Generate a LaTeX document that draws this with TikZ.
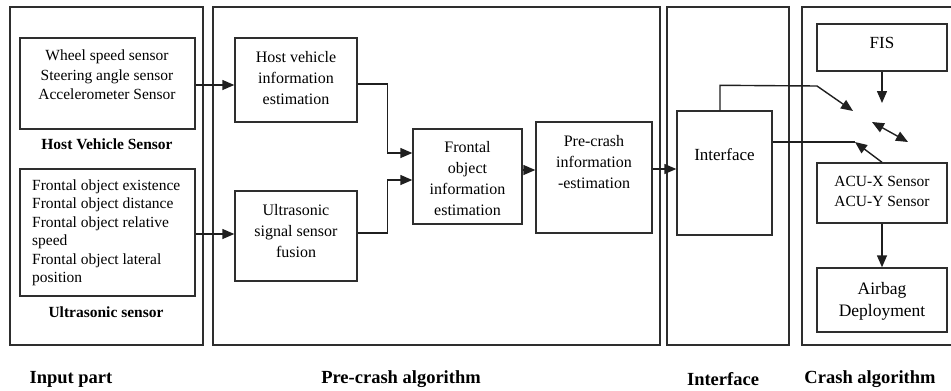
\documentclass[tikz,border=0pt]{standalone}
\usepackage{fontspec}
\setmainfont{Liberation Serif}
\usetikzlibrary{arrows.meta,calc}

\begin{document}
\begin{tikzpicture}[x=1pt,y=-1pt,
  ink/.style={draw=black!82,line width=1.4pt},
  panel/.style={ink,minimum width=#1,minimum height=338pt,inner sep=0pt},
  blk/.style={ink,inner sep=0pt},
  txt/.style={align=center,inner sep=0pt,font=\fontsize{16}{21}\selectfont},
  sidelabel/.style={inner sep=0pt,font=\fontsize{15.5}{18}\selectfont\bfseries},
  partlabel/.style={inner sep=0pt,font=\fontsize{18.5}{22}\selectfont\bfseries},
  tip/.tip={Triangle[length=12pt,width=10pt]},
  arr/.style={draw=black!88,line width=1.4pt,-tip},
  link/.style={draw=black!88,line width=1.4pt}]

\useasboundingbox (0,0) rectangle (951,391);

% --- outer panels ---
\node[panel=193pt] (inp) at (106.5,176) {};
\node[panel=447pt] (pre) at (436.5,176) {};
\node[panel=122pt] (itf) at (728,176) {};
\draw[ink] (955,7) -- (802,7) -- (802,345) -- (955,345);

% --- input part ---
\node[blk,minimum width=175pt,minimum height=91pt] (hvs) at (107.5,83.5) {};
\node[txt,font=\fontsize{15.5}{19.5}\selectfont] at (107,75) {Wheel speed sensor\\Steering angle sensor\\Accelerometer Sensor};
\node[sidelabel] (hvsl) at (107,144) {Host Vehicle Sensor};

\node[blk,minimum width=175pt,minimum height=127pt] (uss) at (107.5,232.5) {};
\node[align=left,inner sep=0pt,anchor=west,font=\fontsize{15.5}{18.5}\selectfont] at (32,233)
  {Frontal object existence\\Frontal object distance\\Frontal object relative\\speed\\Frontal object lateral\\position};
\node[sidelabel] (ussl) at (106,312) {Ultrasonic sensor};

% --- pre-crash algorithm ---
\node[blk,minimum width=122pt,minimum height=84pt] (hve) at (296,80) {};
\node[txt] at (296,78) {Host vehicle\\information\\estimation};

\node[blk,minimum width=122pt,minimum height=90pt] (usf) at (296,236) {};
\node[txt] at (296,231) {Ultrasonic\\signal sensor\\fusion};

\node[blk,minimum width=109pt,minimum height=95pt] (foe) at (467.5,176.5) {};
\node[txt] at (467.5,179) {Frontal\\object\\information\\estimation};

\node[blk,minimum width=116pt,minimum height=111pt] (pce) at (594,177.5) {};
\node[txt] at (594,162) {Pre-crash\\information\\-estimation};

% --- interface ---
\node[blk,minimum width=95pt,minimum height=124pt] (ifb) at (724.5,173) {};
\node[txt,font=\fontsize{17}{21}\selectfont] at (724.5,155) {Interface};

% --- crash algorithm ---
\node[blk,minimum width=130pt,minimum height=47pt] (fis) at (882,47.5) {};
\node[txt,font=\fontsize{17}{21}\selectfont] at (882,43) {FIS};

\node[blk,minimum width=130pt,minimum height=60pt] (acu) at (882,193) {};
\node[txt,font=\fontsize{15.5}{20}\selectfont] at (882,191) {ACU-X Sensor\\ACU-Y Sensor};

\node[blk,minimum width=130pt,minimum height=64pt] (air) at (882,300) {};
\node[txt,font=\fontsize{17.5}{22}\selectfont] at (882,301) {Airbag\\Deployment};

% --- part captions ---
\node[partlabel] at (71,379) {Input part};
\node[partlabel] at (401,379) {Pre-crash algorithm};
\node[partlabel] at (723,379) {Interface};
\node[partlabel] at (870,379) {Crash algorithm};

% --- loose ends of the crash-side signals ---
\coordinate (tipa) at (853,111);
\coordinate (tipb) at (855,142);
\coordinate (tipc) at (882,103);
\coordinate (dbla) at (872,122);
\coordinate (dblb) at (908,142);

% --- connectors ---
\draw[arr] ($(hvs.east)+(0,1.5)$) -- ($(hvs.east -| hve.west)+(0,1.5)$);
\draw[arr] ($(uss.east)+(0,1.5)$) -- ($(uss.east -| usf.west)+(0,1.5)$);
\draw[arr] ($(hve.east)+(0,4)$) -- ++(30,0) |- ($(foe.west)+(0,-23.5)$);
\draw[arr] ($(usf.east)+(0,-3)$) -- ++(30,0) |- ($(foe.west)+(0,3.5)$);
\draw[arr] ($(foe.east)+(0,-6.5)$) -- ($(foe.east -| pce.west)+(0,-6.5)$);
\draw[arr] ($(pce.east)+(0,-8.5)$) -- ($(pce.east -| ifb.west)+(0,-8.5)$);

\draw[arr] ($(ifb.north)+(-4.5,0)$) -- ++(0,-25) -- (817,86) -- (tipa);
\draw[link] ($(ifb.east)+(0,-31)$) -- (tipb);
\draw[arr] (acu.north) -- (tipb);
\draw[arr] (fis.south) -- (tipc);
\draw[arr,tip-tip] (dbla) -- (dblb);
\draw[arr] (acu.south) -- (air.north);

\end{tikzpicture}
\end{document}
